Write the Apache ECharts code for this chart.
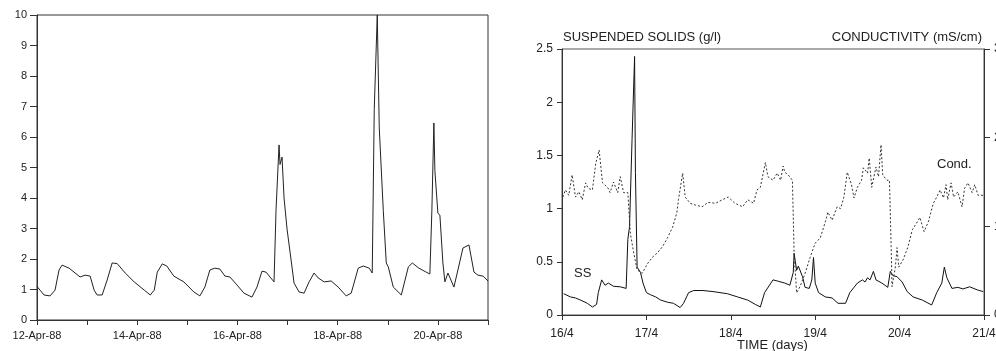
<!DOCTYPE html>
<html>
<head>
    <meta charset="utf-8">
    <title>Suspended solids and conductivity</title>
    <style>
    html, body { margin: 0; padding: 0; background: #fff; }
    #main { width: 996px; height: 351px; }
    </style>
    <script type="text/javascript" src="https://cdn.jsdelivr.net/npm/echarts@6/dist/echarts.min.js"></script>
</head>
<body>
    <div id="main"></div>
    <script>
    // left panel: 12-Apr-88 .. 21-Apr-88 (x = day of April)
    var leftDays = [12.00, 12.06, 12.14, 12.26, 12.36, 12.44, 12.50, 12.64, 12.86, 12.96, 13.06, 13.14, 13.20, 13.30,
        13.40, 13.50, 13.60, 13.76, 13.94, 14.14, 14.26, 14.34, 14.40, 14.50, 14.59, 14.73, 14.93, 15.13, 15.25,
        15.35, 15.45, 15.55, 15.65, 15.75, 15.85, 15.99, 16.13, 16.29, 16.39, 16.49, 16.57, 16.73, 16.77, 16.83,
        16.85, 16.89, 16.93, 16.99, 17.01, 17.07, 17.13, 17.23, 17.33, 17.43, 17.53, 17.61, 17.73, 17.87, 18.01,
        18.17, 18.27, 18.41, 18.51, 18.63, 18.69, 18.73, 18.79, 18.83, 18.91, 18.97, 19.01, 19.11, 19.27, 19.41,
        19.49, 19.62, 19.80, 19.84, 19.88, 19.92, 19.94, 20.00, 20.04, 20.10, 20.14, 20.20, 20.32, 20.40, 20.50,
        20.62, 20.72, 20.80, 20.90, 21.00];
    var leftValues = [1.10, 0.98, 0.82, 0.79, 0.98, 1.64, 1.80, 1.70, 1.41, 1.47, 1.44, 0.98, 0.82, 0.82,
        1.31, 1.87, 1.85, 1.54, 1.25, 0.98, 0.82, 0.98, 1.57, 1.84, 1.77, 1.44, 1.25, 0.92, 0.79,
        1.08, 1.64, 1.70, 1.67, 1.44, 1.41, 1.15, 0.88, 0.75, 1.08, 1.60, 1.57, 1.25, 3.60, 5.74,
        5.10, 5.34, 4.00, 2.98, 2.95, 1.97, 1.21, 0.92, 0.88, 1.25, 1.54, 1.38, 1.25, 1.28, 1.08,
        0.79, 0.88, 1.70, 1.77, 1.70, 1.54, 6.90, 10.0, 6.30, 3.60, 1.87, 1.74, 1.08, 0.82, 1.74,
        1.87, 1.70, 1.54, 1.51, 3.60, 6.46, 4.90, 3.50, 3.44, 1.87, 1.25, 1.54, 1.08, 1.64, 2.36,
        2.46, 1.57, 1.47, 1.44, 1.28];

    // right panel: suspended solids (g/l), 16/4 .. 21/4
    var ssDays = [16.02, 16.10, 16.16, 16.22, 16.30, 16.36, 16.41, 16.43, 16.47, 16.51, 16.55, 16.61, 16.69, 16.76,
        16.78, 16.80, 16.83, 16.86, 16.87, 16.89, 16.93, 16.96, 17.00, 17.05, 17.11, 17.17, 17.25, 17.32, 17.40,
        17.44, 17.50, 17.56, 17.67, 17.79, 17.96, 18.08, 18.20, 18.29, 18.35, 18.40, 18.50, 18.55, 18.64, 18.70,
        18.74, 18.75, 18.78, 18.80, 18.85, 18.88, 18.93, 18.96, 18.98, 19.00, 19.04, 19.12, 19.20, 19.27, 19.36,
        19.41, 19.50, 19.56, 19.59, 19.62, 19.65, 19.69, 19.72, 19.79, 19.86, 19.89, 19.92, 19.97, 20.03, 20.09,
        20.16, 20.27, 20.38, 20.44, 20.50, 20.53, 20.56, 20.62, 20.69, 20.75, 20.83, 20.92, 20.99];
    var ssValues = [0.20, 0.17, 0.16, 0.14, 0.11, 0.075, 0.10, 0.21, 0.33, 0.28, 0.30, 0.27, 0.265, 0.25,
        0.71, 0.83, 1.65, 2.43, 1.34, 0.45, 0.40, 0.30, 0.21, 0.19, 0.17, 0.14, 0.12, 0.11, 0.07,
        0.11, 0.21, 0.23, 0.23, 0.22, 0.20, 0.17, 0.14, 0.10, 0.075, 0.21, 0.33, 0.32, 0.30, 0.28,
        0.40, 0.58, 0.42, 0.46, 0.36, 0.26, 0.25, 0.33, 0.54, 0.30, 0.21, 0.17, 0.16, 0.11, 0.11,
        0.21, 0.30, 0.33, 0.31, 0.35, 0.33, 0.41, 0.33, 0.30, 0.26, 0.41, 0.37, 0.36, 0.31, 0.22,
        0.17, 0.14, 0.094, 0.21, 0.30, 0.45, 0.35, 0.25, 0.26, 0.245, 0.265, 0.236, 0.22];

    // right panel: conductivity (mS/cm), right axis
    var condDays = [16.01, 16.04, 16.08, 16.12, 16.16, 16.20, 16.24, 16.28, 16.31, 16.36, 16.40, 16.44, 16.48, 16.54,
        16.57, 16.61, 16.66, 16.69, 16.73, 16.78, 16.81, 16.85, 16.89, 16.95, 17.01, 17.07, 17.13, 17.19, 17.25,
        17.31, 17.36, 17.38, 17.43, 17.46, 17.52, 17.58, 17.66, 17.73, 17.82, 17.90, 17.97, 18.05, 18.14, 18.20,
        18.27, 18.31, 18.35, 18.41, 18.44, 18.50, 18.55, 18.59, 18.62, 18.64, 18.68, 18.73, 18.75, 18.78, 18.82,
        18.88, 18.94, 19.00, 19.06, 19.12, 19.15, 19.20, 19.26, 19.30, 19.34, 19.38, 19.43, 19.46, 19.50, 19.55,
        19.57, 19.62, 19.64, 19.67, 19.72, 19.75, 19.78, 19.80, 19.85, 19.88, 19.90, 19.91, 19.95, 19.97, 19.99,
        20.04, 20.10, 20.15, 20.21, 20.24, 20.29, 20.34, 20.40, 20.44, 20.48, 20.52, 20.55, 20.57, 20.61, 20.64,
        20.69, 20.74, 20.77, 20.81, 20.86, 20.89, 20.93, 20.99];
    var condValues = [1.33, 1.41, 1.35, 1.58, 1.33, 1.39, 1.30, 1.49, 1.43, 1.41, 1.71, 1.86, 1.49, 1.44,
        1.38, 1.50, 1.38, 1.56, 1.38, 1.38, 0.92, 0.70, 0.51, 0.47, 0.575, 0.65, 0.70, 0.77, 0.87,
        0.99, 1.15, 1.30, 1.60, 1.33, 1.26, 1.24, 1.22, 1.27, 1.26, 1.30, 1.33, 1.26, 1.22, 1.30,
        1.26, 1.41, 1.44, 1.72, 1.56, 1.52, 1.60, 1.52, 1.68, 1.61, 1.58, 1.52, 0.70, 0.25, 0.32,
        0.47, 0.65, 0.81, 0.87, 1.05, 1.16, 1.07, 1.22, 1.20, 1.33, 1.61, 1.47, 1.32, 1.44, 1.52,
        1.66, 1.60, 1.77, 1.44, 1.67, 1.56, 1.92, 1.58, 1.52, 1.52, 0.77, 0.32, 0.54, 0.76, 0.54,
        0.62, 0.77, 0.96, 1.05, 1.10, 0.94, 1.05, 1.26, 1.33, 1.41, 1.32, 1.47, 1.30, 1.49, 1.33,
        1.39, 1.22, 1.43, 1.49, 1.38, 1.47, 1.35, 1.35];

    function pairs(xs, ys) {
        return xs.map(function (x, i) { return [x, ys[i]]; });
    }

    var ink = '#222';
    var font = 'Liberation Sans';

    var option = {
        animation: false,
        backgroundColor: '#fff',
        textStyle: { fontFamily: font, color: ink },
        grid: [
            { left: 37, top: 15, width: 451, height: 305, outerBoundsMode: 'none',
              show: true, borderColor: '#333', borderWidth: 1 },
            { left: 562, top: 49, width: 422, height: 266, outerBoundsMode: 'none',
              show: true, borderColor: '#555', borderWidth: 1 }
        ],
        xAxis: [{
            gridIndex: 0,
            type: 'value',
            min: 12, max: 21, interval: 1,
            splitLine: { show: false },
            axisLine: { lineStyle: { color: '#333', width: 1 } },
            axisTick: { length: 5, lineStyle: { color: '#333' } },
            axisLabel: {
                fontSize: 11, color: ink, margin: 10,
                formatter: function (v) {
                    return (v % 2 === 0 && v < 21) ? v + '-Apr-88' : '';
                }
            }
        }, {
            gridIndex: 1,
            type: 'value',
            min: 16, max: 21, interval: 1,
            splitLine: { show: false },
            axisLine: { lineStyle: { color: '#333', width: 1 } },
            axisTick: { length: 5, lineStyle: { color: '#333' } },
            axisLabel: {
                fontSize: 12, color: ink, margin: 13,
                formatter: function (v) { return v + '/4'; }
            }
        }],
        yAxis: [{
            gridIndex: 0,
            type: 'value',
            min: 0, max: 10, interval: 1,
            splitLine: { show: false },
            axisLine: { show: true, lineStyle: { color: '#333', width: 1 } },
            axisTick: { show: true, length: 7, lineStyle: { color: '#333' } },
            axisLabel: { fontSize: 11, color: ink, margin: 10 }
        }, {
            gridIndex: 1,
            type: 'value',
            min: 0, max: 2.5, interval: 0.5,
            splitLine: { show: false },
            axisLine: { show: true, lineStyle: { color: '#333', width: 1 } },
            axisTick: { show: true, length: 5, lineStyle: { color: '#333' } },
            axisLabel: { fontSize: 12, color: ink, margin: 9 }
        }, {
            gridIndex: 1,
            type: 'value',
            position: 'right',
            min: 0, max: 3, interval: 1,
            splitLine: { show: false },
            axisLine: { show: true, lineStyle: { color: '#333', width: 1 } },
            axisTick: { show: true, length: 6, lineStyle: { color: '#333' } },
            // labels sit at the page edge and are mostly cut off, as in the source scan
            axisLabel: { fontSize: 12, color: ink, margin: 10 }
        }],
        series: [{
            name: 'left',
            type: 'line',
            xAxisIndex: 0, yAxisIndex: 0,
            symbol: 'none',
            lineStyle: { color: '#222', width: 1 },
            data: pairs(leftDays, leftValues)
        }, {
            name: 'SS',
            type: 'line',
            xAxisIndex: 1, yAxisIndex: 1,
            symbol: 'none',
            lineStyle: { color: '#111', width: 1 },
            data: pairs(ssDays, ssValues)
        }, {
            name: 'Cond.',
            type: 'line',
            xAxisIndex: 1, yAxisIndex: 2,
            symbol: 'none',
            lineStyle: { color: '#333', width: 1, type: [2, 2] },
            data: pairs(condDays, condValues)
        }],
        graphic: [
            { type: 'text', left: 563, top: 31, style: { text: 'SUSPENDED SOLIDS (g/l)', fontSize: 13, fontFamily: font, fill: ink } },
            { type: 'text', right: 14, top: 31, style: { text: 'CONDUCTIVITY (mS/cm)', fontSize: 13, fontFamily: font, fill: ink } },
            { type: 'text', left: 574, top: 267, style: { text: 'SS', fontSize: 13, fontFamily: font, fill: ink } },
            { type: 'text', left: 937, top: 158, style: { text: 'Cond.', fontSize: 13, fontFamily: font, fill: ink } },
            // x-axis title of the right panel, placed just below the tick labels
            { type: 'text', left: 737, top: 339, style: { text: 'TIME (days)', fontSize: 13, fontFamily: font, fill: ink } }
        ]
    };

    var myChart = echarts.init(document.getElementById('main'));
    myChart.setOption(option);
    </script>
</body>
</html>
